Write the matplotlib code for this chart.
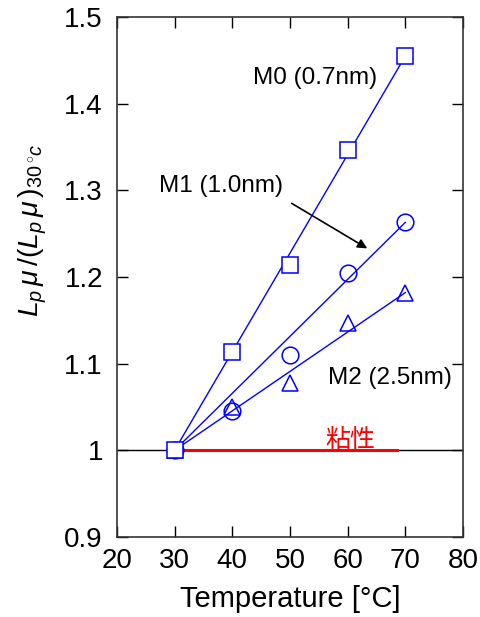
import matplotlib
matplotlib.use('Agg')
import matplotlib.pyplot as plt

# data
temps = [30, 40, 50, 60, 70]
m0 = [1.0, 1.114, 1.214, 1.347, 1.455]
m1 = [1.0, 1.045, 1.110, 1.205, 1.263]
m2 = [1.0, 1.050, 1.078, 1.147, 1.182]
fit_x = [30, 70]
m0_fit = [1.0, 1.455]
m1_fit = [1.0, 1.263]
m2_fit = [1.0, 1.182]
visc_x = [30, 68.5]
visc_y = [1.0, 1.0]

x_ticks = [20, 30, 40, 50, 60, 70, 80]
y_ticks = [0.9, 1.0, 1.1, 1.2, 1.3, 1.4, 1.5]
y_tick_labels = ['0.9', '1', '1.1', '1.2', '1.3', '1.4', '1.5']

plt.rcParams['font.family'] = ['Liberation Sans', 'Noto Sans CJK JP']
plt.rcParams['mathtext.fontset'] = 'custom'
plt.rcParams['mathtext.rm'] = 'Liberation Sans'
plt.rcParams['mathtext.it'] = 'Liberation Sans:italic'

fig = plt.figure(figsize=(4.81, 6.17), dpi=100)
ax = fig.add_axes([0.243, 0.1297, 0.7196, 0.8427])

blue = '#0000ff'
ax.axhline(1.0, color='black', lw=1)
ax.plot(visc_x, visc_y, color='#ff0000', lw=2.2, zorder=3)

ax.plot(fit_x, m0_fit, color=blue, lw=1)
ax.plot(fit_x, m1_fit, color=blue, lw=1)
ax.plot(fit_x, m2_fit, color=blue, lw=1)
ax.plot(temps, m2, ls='none', marker='^', ms=12, mfc='none', mec=blue, mew=1.1, zorder=4)
ax.plot(temps, m1, ls='none', marker='o', ms=12, mfc='none', mec=blue, mew=1.1, zorder=4)
ax.plot(temps, m0, ls='none', marker='s', ms=12, mfc='white', mec=blue, mew=1.1, zorder=5)

ax.text(54.4, 1.43, 'M0 (0.7nm)', fontsize=17.5, ha='center', va='center')
ax.text(38.0, 1.305, 'M1 (1.0nm)', fontsize=17.5, ha='center', va='center')
ax.text(67.3, 1.083, 'M2 (2.5nm)', fontsize=17.5, ha='center', va='center')
ax.annotate('', xy=(63.4, 1.233), xytext=(50.3, 1.285),
            arrowprops=dict(arrowstyle='-|>', color='black', lw=1.2, mutation_scale=14,
                            shrinkA=0, shrinkB=0))
ax.text(60.4, 1.004, '粘性', fontsize=18, color='#ff0000', ha='center', va='baseline')

ax.set_xlim(20, 80)
ax.set_ylim(0.9, 1.5)
ax.set_xticks(x_ticks)
ax.set_yticks(y_ticks)
ax.set_yticklabels(y_tick_labels)
ax.tick_params(direction='in', length=8, width=1, top=True, right=True, labelsize=20)
ax.tick_params(axis='y', pad=10)
ax.tick_params(axis='x', pad=8)
for s in ax.spines.values():
    s.set_linewidth(1.2)
    s.set_color('#333333')

ax.set_xlabel('Temperature [°C]', fontsize=21, labelpad=8)
ax.set_ylabel(r'$L_p\,\mu\,/(L_p\,\mu\,)_{30^\circ\!c}$', fontsize=20.5)
ax.yaxis.set_label_coords(-0.195, 0.59)

fig.savefig('out.png', dpi=100)
